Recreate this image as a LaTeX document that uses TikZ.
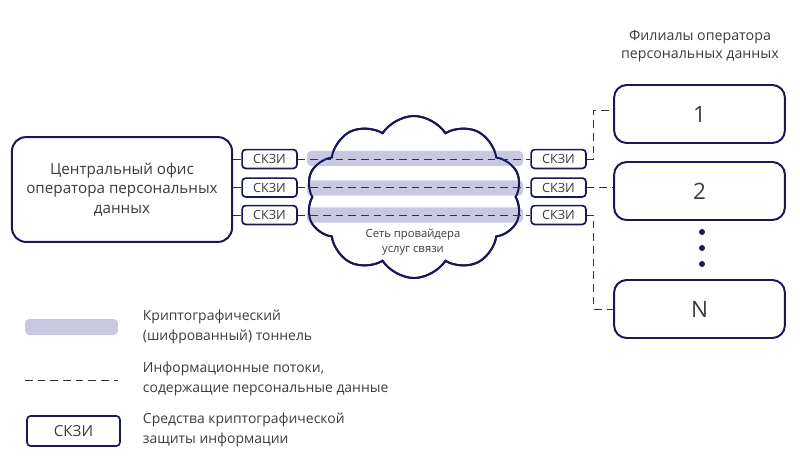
\documentclass[tikz,border=0pt]{standalone}
\usepackage{fontspec}
\setmainfont{Open Sans}
\usepackage{xcolor}
\usetikzlibrary{shapes.symbols, positioning}
\definecolor{navy}{RGB}{24,24,88}
\definecolor{tunnel}{RGB}{200,200,226}
\definecolor{txt}{RGB}{60,60,60}

\begin{document}
\begin{tikzpicture}[
  x=0.025cm, y=-0.025cm,
  office/.style={draw=navy, line width=1.4pt, rounded corners=10pt, fill=white, text=txt, align=center, minimum width=5.5cm, minimum height=2.62cm, font=\fontsize{10.8}{14}\selectfont},
  skzi/.style={draw=navy, line width=1.2pt, rounded corners=2.5pt, fill=white, minimum width=1.37cm, minimum height=0.47cm, inner sep=0pt, text=txt, font=\fontsize{9}{10}\selectfont},
  branch/.style={draw=navy, line width=1.4pt, rounded corners=9pt, fill=white, minimum width=4.27cm, minimum height=1.45cm, text=txt, font=\fontsize{16}{18}\selectfont},
  provider/.style={cloud, draw=navy, line width=1.4pt, cloud puffs=10, cloud puff arc=115, aspect=1.4, minimum width=5.4cm, minimum height=4.05cm},
  tunnel_bar/.style={fill=tunnel, rounded corners=3pt, minimum height=0.38cm, inner sep=0pt},
  flow/.style={dash pattern=on 5.5pt off 3.5pt, line width=0.6pt, black!80},
  dot/.style={circle, fill=navy, minimum size=0.15cm, inner sep=0pt},
  legend_text/.style={anchor=west, align=left, text=txt, font=\fontsize{9.9}{14}\selectfont}
]
\useasboundingbox (0,0) rectangle (800,461);

% central office
\node[office] (office) at (122,189.5) {Центральный офис\\оператора персональных\\данных};

% provider network
\node[provider, fill=white] (cloud) at (414,197) {};

% tunnels
\foreach \y/\name in {158.5/1,188/2,215/3}{
  \node[tunnel_bar, minimum width=5.4cm] (bar\name) at (415,\y) {};
}
\node[provider] (cloud_outline) at (414,197) {};
\node[text=txt, align=center, font=\fontsize{8}{10.5}\selectfont] (cloudtext) at (413,242) {Сеть провайдера\\услуг связи};

% crypto boxes
\foreach \y/\name in {159/1,187.5/2,215/3}{
  \node[skzi] (skziL\name) at (269.5,\y) {СКЗИ};
  \node[skzi] (skziR\name) at (558.5,\y) {СКЗИ};
}

% branches
\node[text=txt, align=center, font=\fontsize{10.1}{13}\selectfont] (brtitle) at (700,46) {Филиалы оператора\\персональных данных};
\node[branch] (br1) at (699.5,114) {1};
\node[branch] (br2) at (699.5,191) {2};
\node[branch] (brN) at (699.5,309) {N};
\foreach \y [count=\i] in {232,248,264}{ \node[dot] (dot\i) at (702,\y) {}; }

% data flows
\foreach \i in {1,2,3}{
  \draw[flow] (office.east |- skziL\i.west) -- (skziL\i.west);
  \draw[flow] (skziL\i.east) -- (skziR\i.west);
}
\draw[flow] (skziR1.east) -- ++(7,0) |- ([yshift=0.1cm]br1.west);
\draw[flow] (skziR2.east) -- (br2.west |- skziR2.east);
\draw[flow] (skziR3.east) -- ++(7,0) |- (brN.west);

% legend
\node[tunnel_bar, minimum width=2.32cm, minimum height=0.4cm] (lg_bar) at (71.5,327) {};
\node[legend_text] (lg_bar_text) at (138,327) {Криптографический\\(шифрованный) тоннель};
\coordinate (lg_a) at (25,380);
\coordinate (lg_b) at (118,380);
\draw[flow] (lg_a) -- (lg_b);
\node[legend_text] (lg_flow_text) at (138,379) {Информационные потоки,\\содержащие персональные данные};
\node[skzi, minimum width=2.32cm, minimum height=0.75cm, font=\fontsize{10.8}{12}\selectfont] (lg_skzi) at (73.5,431) {СКЗИ};
\node[legend_text] (lg_skzi_text) at (138,430) {Средства криптографической\\защиты информации};
\end{tikzpicture}
\end{document}
